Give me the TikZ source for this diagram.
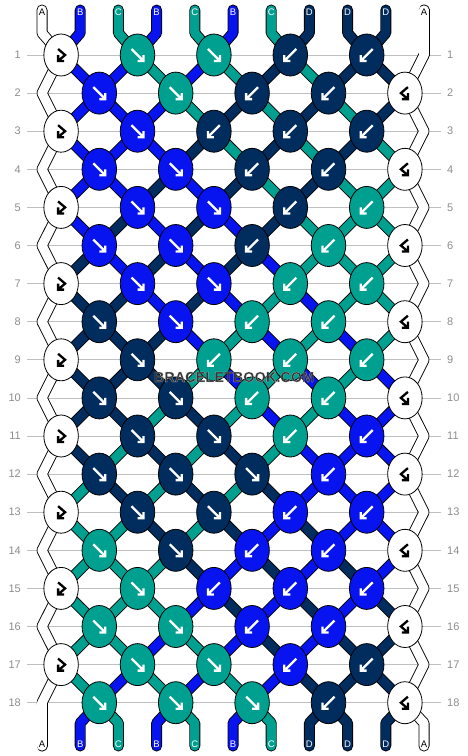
\documentclass[tikz,border=0pt]{standalone}
\usepackage{fontspec}
\setmainfont{Liberation Sans}
\usetikzlibrary{shapes.geometric,calc}
\definecolor{colA}{RGB}{255,255,255}
\definecolor{colB}{RGB}{8,20,240}
\definecolor{colC}{RGB}{0,160,144}
\definecolor{colD}{RGB}{0,44,94}
\definecolor{rowgray}{RGB}{192,192,192}
\definecolor{numgray}{RGB}{140,140,140}
\pgfdeclarelayer{rows}\pgfdeclarelayer{edge}\pgfdeclarelayer{fill}
\pgfsetlayers{rows,edge,fill,main}
\newcommand\knottipf{\draw[tip line=white] (-6,-6) -- (5,5) (6,0) -- (6,6) -- (0,6);}
\newcommand\knottipb{\draw[tip line=white] (6,-6) -- (-5,5) (-6,0) -- (-6,6) -- (0,6);}
\newcommand\knottipl{\draw[tip line=black] (-3,-6) -- (4,0) -- (-3,6) (-3,0) -- (-3,6) -- (3,6);}
\newcommand\knottipr{\draw[tip line=black] (3,-6) -- (-4,0) -- (3,6) (3,0) -- (3,6) -- (-3,6);}
\newcommand\haloed[1]{\special{pdf:literal direct 0.85 0.85 0.88 RG 0.12 w 1 j 2 Tr}#1\special{pdf:literal direct 0 Tr}}
\tikzset{
  knot/.style={ellipse, draw=black, line width=0.8pt, fill=#1,
    minimum width=34.5pt, minimum height=42pt, inner sep=0pt},
  edge line/.style={line width=11pt, black, line cap=round, line join=round},
  fill line/.style={line width=9.2pt, draw=#1, line cap=round, line join=round},
  tip line/.style={line width=2.3pt, line join=miter, draw=#1},
  pics/tip/.style={code={\csname knottip#1\endcsname}},
  num/.style={text=numgray, inner sep=0pt, font=\fontsize{11}{11}\selectfont},
  lab/.style={text=#1, inner sep=0pt, font=\fontsize{9.5}{10}\selectfont},
  wmtext/.style={text=black!80, inner sep=0pt, font=\fontsize{14.5}{14}\bfseries},
}
\begin{document}
\begin{tikzpicture}[x=1pt, y=-1pt]
\useasboundingbox (0,0) rectangle (468,756);

% knots, row by row: colour / kind
\foreach \ks [count=\r] in {
  {A/l,C/f,C/f,D/b,D/b}, {B/f,C/f,D/b,D/b,A/r},
  {A/l,B/f,D/b,D/b,D/b}, {B/f,B/f,D/b,D/b,A/r},
  {A/l,B/f,B/f,D/b,C/b}, {B/f,B/f,D/b,C/b,A/r},
  {A/l,B/f,B/f,C/b,C/b}, {D/f,B/f,C/b,C/b,A/r},
  {A/l,D/f,C/b,C/b,C/b}, {D/f,D/f,C/b,C/b,A/r},
  {A/l,D/f,D/f,C/b,B/b}, {D/f,D/f,D/f,B/b,A/r},
  {A/l,D/f,D/f,B/b,B/b}, {C/f,D/f,B/b,B/b,A/r},
  {A/l,C/f,B/b,B/b,B/b}, {C/f,C/f,B/b,B/b,A/r},
  {A/l,C/f,C/f,B/b,D/b}, {C/f,C/f,C/f,D/b,A/r}} {
  \foreach \kc/\kt [count=\i from 0] in \ks {
    \pgfmathsetmacro\kx{42+38.2*(2*\i+0.5+mod(\r+1,2))}
    \pgfmathsetmacro\ky{55+38.1*(\r-1)}
    \node[knot=col\kc] (n-\r-\i) at (\kx,\ky) {};
    \pic at (n-\r-\i) {tip=\kt};
  }
}

% row numbers and guide lines
\foreach \r in {1,...,18} {
  \pgfmathsetmacro\ky{55+38.1*(\r-1)}
  \node[num, anchor=east] (ln-\r) at (21,\ky) {\r};
  \node[num, anchor=west] (rn-\r) at (447,\ky) {\r};
  \begin{pgfonlayer}{rows}
    \draw[rowgray, line width=0.8pt] ([xshift=6pt]ln-\r.east) -- ([xshift=-6pt]rn-\r.west);
  \end{pgfonlayer}
}

% strand positions
\foreach \p in {0,...,10} {
  \coordinate (t-\p) at (42+38.2*\p,10);
  \coordinate (b-\p) at (42+38.2*\p,746);
}
\foreach \r in {1,...,18} \foreach \p in {0,...,10} {
  \pgfmathtruncatemacro\q{\p-1+mod(\r,2)}
  \pgfmathtruncatemacro\ki{floor(\q/2)}
  \ifnum\q<0 \coordinate (s-\r-\p) at (42+38.2*\p,55+38.1*\r-38.1);
  \else\ifnum\q>9 \coordinate (s-\r-\p) at (42+38.2*\p,55+38.1*\r-38.1);
  \else \coordinate (s-\r-\p) at (n-\r-\ki.center);
  \fi\fi
}

% strand segments below each row
\foreach \st [count=\r from 0] in {
  {A,B,C,B,C,B,C,D,D,D,A}, {A,B,B,C,B,C,D,C,D,D,A},
  {A,B,B,B,C,D,C,D,C,D,A}, {A,B,B,B,D,C,D,C,D,C,A},
  {A,B,B,D,B,D,C,D,C,C,A}, {A,B,D,B,D,B,D,C,C,C,A},
  {A,D,B,D,B,D,B,C,C,C,A}, {A,D,D,B,D,B,C,B,C,C,A},
  {A,D,D,D,B,C,B,C,B,C,A}, {A,D,D,D,C,B,C,B,C,B,A},
  {A,D,D,C,D,C,B,C,B,B,A}, {A,D,C,D,C,D,C,B,B,B,A},
  {A,C,D,C,D,C,D,B,B,B,A}, {A,C,C,D,C,D,B,D,B,B,A},
  {A,C,C,C,D,B,D,B,D,B,A}, {A,C,C,C,B,D,B,D,B,D,A},
  {A,C,C,B,C,B,D,B,D,D,A}, {A,C,B,C,B,C,B,D,D,D,A},
  {A,B,C,B,C,B,C,D,D,D,A}} {
  \foreach \c [count=\p from 0] in \st {
    \pgfmathtruncatemacro\nr{\r+1}
    \ifnum\r=0 \def\seg{(t-\p) -- ++(0,23) -- (s-1-\p)}
    \else\ifnum\r=18 \def\seg{(s-18-\p) -- ($(b-\p)+(0,-23)$) -- (b-\p)}
    \else \def\seg{(s-\r-\p) -- (s-\nr-\p)}
    \fi\fi
    \begin{pgfonlayer}{edge}\draw[edge line] \seg;\end{pgfonlayer}
    \begin{pgfonlayer}{fill}\draw[fill line=col\c] \seg;\end{pgfonlayer}
  }
}

% strand letters
\foreach \c [count=\p from 0] in {A,B,C,B,C,B,C,D,D,D,A} {
  \edef\tc{\if A\c black\else white\fi}
  \node[lab=\tc] (tl-\p) at ($(t-\p)+(0,2.5)$) {\c};
  \node[lab=\tc] (bl-\p) at ($(b-\p)+(0,-1.5)$) {\c};
}

% watermark
\node[wmtext] (wm) at (234,377) {\haloed{BRACELETBOOK.COM}};
\end{tikzpicture}
\end{document}
